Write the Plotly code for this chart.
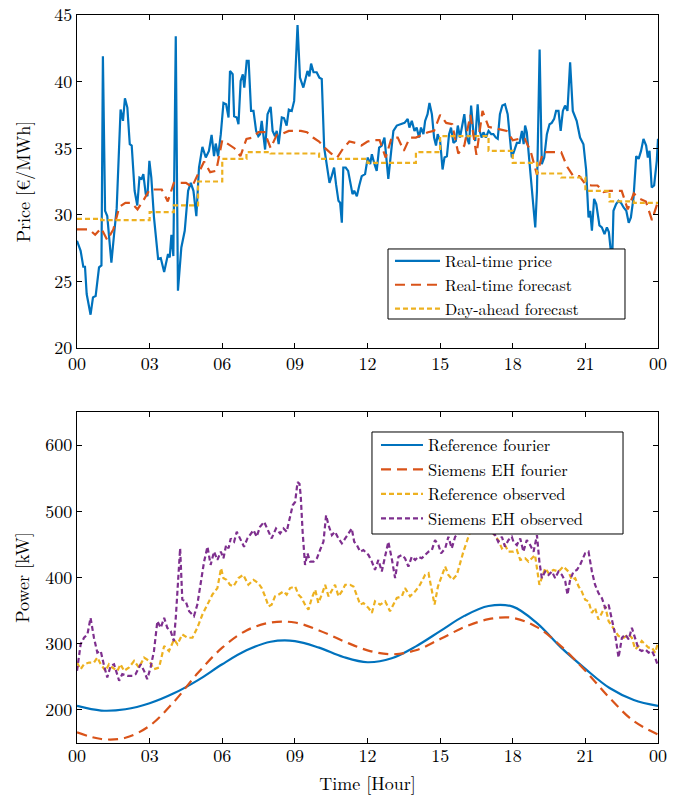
import plotly.graph_objects as go

# ---------------- Top panel data ----------------
rt_hours = [0.0, 0.15, 0.26, 0.33, 0.40, 0.56, 0.66, 0.77, 0.91, 1.01, 1.07, 1.16, 1.25, 1.42, 1.53, 1.64,
            1.80, 1.90, 1.98, 2.08, 2.18, 2.26, 2.38, 2.49, 2.58, 2.67, 2.74, 2.84, 2.91, 2.99, 3.07, 3.18,
            3.35, 3.46, 3.60, 3.76, 3.83, 3.90, 3.98, 4.08, 4.17, 4.31, 4.45, 4.59, 4.70, 4.81, 4.93, 5.04,
            5.18, 5.32, 5.45, 5.56, 5.66, 5.73, 5.83, 5.94,
            6.05, 6.16, 6.26, 6.32, 6.43, 6.49, 6.60, 6.67, 6.76, 6.85, 6.91, 7.01, 7.09, 7.19, 7.29, 7.40,
            7.49, 7.56, 7.63, 7.70, 7.77, 7.87, 8.00, 8.08, 8.18, 8.25, 8.33, 8.46, 8.55, 8.66, 8.75, 8.87,
            8.97, 9.11, 9.21, 9.35, 9.46, 9.52, 9.60, 9.67, 9.77, 9.90, 10.01, 10.11, 10.21, 10.32, 10.43,
            10.52, 10.62, 10.70, 10.80, 10.87, 10.94, 11.00, 11.10, 11.20, 11.30, 11.38, 11.45, 11.56, 11.66,
            11.76, 11.90,
            12.01, 12.11, 12.18, 12.29, 12.38, 12.48, 12.59, 12.70, 12.77, 12.86, 12.98, 13.07, 13.21, 13.35,
            13.53, 13.66, 13.73, 13.83, 13.94, 14.03, 14.13, 14.21, 14.31, 14.38, 14.48, 14.56, 14.66, 14.75,
            14.83, 14.90, 15.00, 15.10, 15.18, 15.28, 15.37, 15.45, 15.55, 15.65, 15.73, 15.82, 15.92, 16.00,
            16.10, 16.20, 16.28, 16.38, 16.45, 16.55, 16.63, 16.72, 16.79, 16.89, 17.00, 17.11, 17.20, 17.30,
            17.38, 17.47, 17.57, 17.68, 17.79, 17.89,
            17.96, 18.06, 18.17, 18.28, 18.38, 18.45, 18.51, 18.58, 18.65, 18.72, 18.83, 18.93, 19.00, 19.11,
            19.20, 19.30, 19.41, 19.52, 19.61, 19.71, 19.79, 19.89, 19.98, 20.07, 20.16, 20.26, 20.37, 20.48,
            20.64, 20.78, 20.92, 21.03, 21.13, 21.20, 21.27, 21.36, 21.45, 21.52, 21.58, 21.68, 21.79, 21.89,
            21.97, 22.05, 22.10, 22.16, 22.27, 22.37, 22.47, 22.58, 22.69, 22.79, 22.88, 22.99, 23.10, 23.20,
            23.30, 23.40, 23.51, 23.58, 23.65, 23.74, 23.84, 23.95, 24.0]
rt_price = [28.05, 27.3, 26.1, 26.1, 24.05, 22.5, 23.8, 23.9, 26.05, 26.2, 41.9, 30.3, 29.9, 26.4, 28.5, 30.5,
            37.9, 37.05, 38.75, 38.05, 35.3, 35.2, 31.8, 30.7, 32.8, 32.7, 33.05, 31.55, 31.4, 34.05, 32.8, 29.8,
            26.7, 26.75, 25.7, 27.05, 26.8, 28.5, 26.9, 43.4, 24.3, 27.55, 28.8, 31.8, 32.4, 31.8, 29.9, 33.55,
            35.1, 34.3, 34.8, 36.0, 34.4, 35.35, 34.4, 36.05,
            38.4, 38.3, 37.3, 40.8, 40.55, 37.4, 37.3, 36.8, 40.05, 40.55, 39.55, 41.55, 41.55, 37.8, 37.8, 36.3,
            35.9, 36.05, 37.05, 35.9, 34.9, 37.55, 38.1, 36.3, 35.9, 36.3, 35.3, 37.3, 37.25, 36.7, 37.9, 37.8,
            38.55, 44.25, 40.3, 39.55, 40.3, 40.8, 40.4, 41.35, 40.7, 40.7, 40.3, 40.2, 35.05, 33.8, 32.4,
            32.9, 33.55, 32.3, 31.05, 30.9, 29.4, 33.55, 33.55, 33.3, 32.3, 31.55, 31.8, 31.4, 32.2,
            32.9, 33.05,
            34.3, 33.8, 34.55, 33.8, 33.3, 35.05, 35.2, 35.8, 34.55, 32.7, 34.8, 36.3, 36.7, 36.8,
            36.9, 37.2, 36.55, 37.05, 36.3, 36.55, 35.8, 36.55, 36.05, 37.05, 37.55, 38.4, 37.55, 35.8,
            35.2, 36.05, 35.55, 33.4, 34.3, 34.4, 36.05, 36.55, 35.4, 35.55, 36.7, 35.8, 36.7, 37.55,
            35.8, 35.3, 38.2, 36.05, 35.55, 38.3, 36.3, 35.8, 36.2, 35.8, 36.3, 36.05, 36.05, 35.8,
            35.7, 37.55, 38.2, 38.3, 37.55, 35.8,
            34.3, 34.8, 35.4, 35.4, 36.3, 35.3, 36.7, 36.2, 34.8, 33.05, 31.3, 29.05, 31.8, 42.4,
            33.8, 34.3, 36.05, 36.8, 36.9, 37.2, 37.8, 37.8, 36.3, 37.8, 38.2, 37.8, 41.45, 37.8,
            37.05, 35.8, 35.3, 33.4, 29.8, 30.3, 28.8, 31.2, 30.8, 29.9, 29.2, 29.05, 28.55, 29.05,
            28.7, 27.3, 26.0, 30.3, 30.8, 31.05, 30.9, 30.55, 30.3, 29.4, 29.8, 31.3, 34.4, 34.2,
            34.8, 35.7, 35.2, 34.3, 34.8, 32.05, 32.2, 34.05, 35.7]

# real-time forecast, quarter-hourly (0, 0.25, ..., 24)
rtf_price = [28.9, 28.9, 28.9, 28.5, 29.0, 28.1, 28.9, 30.6, 30.9, 30.9, 30.4, 31.1,
             31.9, 31.9, 31.9, 31.0, 32.4, 32.4, 32.4, 32.1, 33.0, 34.0, 33.2, 33.3,
             35.6, 35.3, 35.0, 34.4, 35.7, 35.8, 36.2, 36.2, 35.0, 36.0, 36.1, 36.3,
             36.3, 36.3, 36.2, 35.8, 35.5, 35.0, 34.6, 34.3, 35.0, 35.5, 35.4, 35.2,
             35.5, 35.6, 35.6, 34.3, 35.8, 35.8, 34.8, 35.8, 35.8, 36.0, 36.2, 36.3,
             37.5, 36.9, 36.8, 34.6, 35.2, 37.5, 34.5, 37.8, 36.6, 36.5, 36.4, 36.3,
             35.6, 35.7, 35.7, 34.7, 33.0, 34.7, 34.7, 34.7, 34.7, 33.6, 32.9, 32.9,
             32.3, 32.2, 32.2, 31.7, 31.8, 31.8, 31.8, 30.4, 31.6, 31.2, 31.0, 29.6, 31.0]
rtf_hours = [i * 0.25 for i in range(len(rtf_price))]

# day-ahead forecast, hourly blocks
da_hours = list(range(25))
da_price = [29.7, 29.6, 29.6, 30.2, 30.7, 32.5, 34.2, 34.7, 34.6, 34.6, 34.2, 34.2,
            33.9, 33.9, 34.7, 35.9, 35.9, 34.8, 33.9, 33.1, 32.8, 31.8, 31.0, 30.9, 30.9]

# ---------------- Bottom panel data ----------------
fourier_hours = list(range(25))
ref_fourier = [206, 199, 201, 210, 225, 245, 269, 290, 303, 304, 294, 280, 272,
               278, 296, 319, 342, 357, 356, 331, 294, 262, 233, 215, 206]
siem_fourier = [166, 156, 158, 176, 212, 256, 294, 320, 332, 332, 320, 304, 290,
                284, 290, 307, 325, 337, 339, 325, 296, 259, 218, 183, 163]

ref_obs_hours = [0.0, 0.15, 0.29, 0.50, 0.70, 0.84, 0.98, 1.18, 1.32, 1.46, 1.67, 1.80, 1.94, 2.15, 2.36,
                 2.56, 2.77, 2.98, 3.18, 3.39, 3.60, 3.80, 4.01, 4.15, 4.35, 4.56, 4.77, 4.97, 5.18, 5.39,
                 5.59, 5.80, 5.95,
                 6.05, 6.18, 6.32, 6.46, 6.67, 6.87, 7.08, 7.29, 7.49, 7.63, 7.77, 7.91, 8.04, 8.18, 8.32,
                 8.53, 8.66, 8.80, 9.01, 9.15, 9.28, 9.42, 9.56, 9.70, 9.84, 9.97, 10.11, 10.25, 10.39,
                 10.53, 10.66, 10.80, 10.94, 11.08, 11.28, 11.42, 11.56, 11.70, 11.83,
                 12.04, 12.18, 12.31, 12.52, 12.73, 12.93, 13.07, 13.21, 13.42, 13.55, 13.76, 13.97, 14.17,
                 14.38, 14.52, 14.66, 14.77, 14.91, 15.07, 15.21, 15.34, 15.51, 15.69, 15.83, 15.96, 16.10,
                 16.24, 16.40, 16.60, 16.80, 17.00, 17.20, 17.40, 17.55, 17.68, 17.82,
                 18.03, 18.17, 18.31, 18.51, 18.65, 18.79, 18.92, 19.10, 19.20, 19.34, 19.48, 19.68, 19.89,
                 20.09, 20.30, 20.44, 20.58, 20.72, 20.85, 20.99, 21.13, 21.27, 21.40, 21.54, 21.68, 21.82,
                 21.96, 22.09, 22.23, 22.37, 22.58, 22.79, 22.92, 23.06, 23.20, 23.33, 23.47, 23.61, 23.75,
                 23.88, 24.0]
ref_obs = [271.5, 261.5, 269, 271.5, 271.5, 279, 269, 259, 269, 264, 259, 269, 259, 264, 274,
           264, 279, 274, 261.5, 264, 296.5, 289, 306.5, 299, 314, 309, 309, 324, 344, 359,
           374, 384, 414,
           399, 396.5, 389, 386.5, 399, 404, 389, 396.5, 391.5, 384, 371.5, 356.5, 359, 371.5, 374,
           379, 374, 384, 386.5, 374, 369, 359, 351.5, 369, 381.5, 361.5, 374, 389, 371.5,
           381.5, 389, 371.5, 379, 389, 389, 386.5, 374, 359, 361.5,
           354, 346.5, 364, 359, 364, 349, 359, 369, 371.5, 384, 371.5, 379, 389,
           404, 406.5, 379, 359, 386.5, 404, 416.5, 404, 396.5, 404, 424, 439, 454,
           469, 490, 505, 500, 485, 466.5, 456.5, 444, 449, 439,
           439, 441.5, 426.5, 429, 424, 429, 434, 389, 399, 414, 406.5, 411.5, 409,
           416.5, 409, 396.5, 399, 386.5, 379, 366.5, 364, 346.5, 354, 336.5, 346.5, 356.5,
           334, 326.5, 319, 311.5, 309, 314, 309, 291.5, 296.5, 304, 299, 294, 294,
           286.5, 301.5]

siem_obs_hours = [0.0, 0.15, 0.29, 0.43, 0.56, 0.70, 0.84, 0.98, 1.12, 1.25, 1.39, 1.53, 1.74, 1.87, 2.08,
                  2.29, 2.42, 2.63, 2.77, 2.90, 3.04, 3.18, 3.32, 3.46, 3.60, 3.73, 3.87, 4.00, 4.08, 4.17,
                  4.26, 4.35, 4.49, 4.63, 4.83, 4.97, 5.11, 5.25, 5.39, 5.52, 5.66, 5.80, 5.94,
                  6.05, 6.16, 6.26, 6.35, 6.49, 6.60, 6.74, 6.90, 7.04, 7.18, 7.29, 7.42, 7.56, 7.73, 7.91,
                  8.04, 8.22, 8.39, 8.53, 8.66, 8.80, 8.91, 9.01, 9.11, 9.19, 9.24, 9.32, 9.42, 9.52, 9.63,
                  9.77, 9.91, 10.04, 10.18, 10.29, 10.39, 10.53, 10.66, 10.80, 10.94, 11.08, 11.22, 11.35,
                  11.45, 11.56, 11.70, 11.83,
                  12.04, 12.18, 12.31, 12.45, 12.59, 12.73, 12.86, 13.00, 13.14, 13.28, 13.42, 13.55, 13.69,
                  13.83, 13.97, 14.10, 14.24, 14.38, 14.52, 14.66, 14.79, 14.93, 15.04, 15.21, 15.34, 15.48,
                  15.62, 15.76, 15.95, 16.15, 16.35, 16.55, 16.75, 16.95, 17.10, 17.27, 17.40, 17.55, 17.68,
                  17.82, 17.96,
                  18.03, 18.17, 18.31, 18.44, 18.58, 18.72, 18.86, 19.00, 19.10, 19.20, 19.34, 19.48, 19.62,
                  19.75, 19.89, 20.03, 20.17, 20.26, 20.37, 20.51, 20.65, 20.78, 20.89, 20.99, 21.13, 21.27,
                  21.40, 21.54, 21.68, 21.82, 21.96, 22.09, 22.23, 22.37, 22.51, 22.65, 22.79, 22.92, 23.06,
                  23.20, 23.33, 23.47, 23.61, 23.75, 23.88, 24.0]
siem_obs = [259, 299, 309, 314, 339, 309, 286.5, 289, 266.5, 249, 266.5, 269, 244, 254, 251.5,
            251.5, 254, 269, 259, 246.5, 264, 289, 334, 324, 339, 324, 319, 304, 339, 394,
            444, 366.5, 364, 349, 341.5, 359, 394, 424, 446.5, 419, 439, 426.5, 439,
            429, 449, 444, 459, 454, 469, 459, 446.5, 459, 466.5, 471.5, 461.5, 476.5, 484, 469,
            459, 474, 466.5, 474, 469, 491.5, 509, 514, 544, 541.5, 524, 469, 419, 436.5, 424,
            424, 429, 441.5, 454, 494, 479, 464, 469, 459, 451.5, 459, 466.5, 474,
            454, 449, 439, 441.5,
            434, 424, 411.5, 426.5, 409, 431.5, 454, 429, 399, 431.5, 434, 429, 416.5,
            431.5, 426.5, 431.5, 429, 434, 439, 441.5, 456.5, 449, 436.5, 444, 461.5, 444,
            461.5, 466.5, 475, 482, 478, 488, 480, 472, 470, 464, 454, 461.5, 446.5,
            456.5, 461.5,
            454, 449, 459, 439, 456.5, 449, 439, 464, 424, 399, 409, 404, 409,
            399, 409, 404, 394, 374, 396.5, 409, 411.5, 419, 429, 436.5, 439, 409,
            389, 376.5, 369, 354, 359, 339, 314, 279, 309, 314, 306.5, 324, 309,
            291.5, 289, 291.5, 286.5, 289, 279, 266.5]

tick_hours = [0, 3, 6, 9, 12, 15, 18, 21, 24]
tick_labels = ["00", "03", "06", "09", "12", "15", "18", "21", "00"]

BLUE = "#0072BD"
ORANGE = "#D95319"
YELLOW = "#EDB120"
PURPLE = "#7E2F8E"
FONT = "Latin Modern Roman"
FS = 18

fig = go.Figure()
fig.add_trace(go.Scatter(x=rt_hours, y=rt_price, mode="lines", name="Real-time price",
                         line=dict(color=BLUE, width=2.2), xaxis="x", yaxis="y", legend="legend"))
fig.add_trace(go.Scatter(x=rtf_hours, y=rtf_price, mode="lines", name="Real-time forecast",
                         line=dict(color=ORANGE, width=2.2, dash="10px,6px"), xaxis="x", yaxis="y", legend="legend"))
fig.add_trace(go.Scatter(x=da_hours, y=da_price, mode="lines", name="Day-ahead forecast",
                         line=dict(color=YELLOW, width=2.2, dash="5px,3px", shape="hv"), xaxis="x", yaxis="y", legend="legend"))

fig.add_trace(go.Scatter(x=fourier_hours, y=ref_fourier, mode="lines", name="Reference fourier",
                         line=dict(color=BLUE, width=2.2, shape="spline", smoothing=1.0), xaxis="x2", yaxis="y2", legend="legend2"))
fig.add_trace(go.Scatter(x=fourier_hours, y=siem_fourier, mode="lines", name="Siemens EH fourier",
                         line=dict(color=ORANGE, width=2.2, dash="10px,6px", shape="spline", smoothing=1.0),
                         xaxis="x2", yaxis="y2", legend="legend2"))
fig.add_trace(go.Scatter(x=ref_obs_hours, y=ref_obs, mode="lines", name="Reference observed",
                         line=dict(color=YELLOW, width=2.2, dash="5px,3px"), xaxis="x2", yaxis="y2", legend="legend2"))
fig.add_trace(go.Scatter(x=siem_obs_hours, y=siem_obs, mode="lines", name="Siemens EH observed",
                         line=dict(color=PURPLE, width=2.2, dash="5px,3px"), xaxis="x2", yaxis="y2", legend="legend2"))

axis_common = dict(showline=True, linecolor="black", linewidth=1.2, mirror="ticks", ticks="inside",
                   ticklen=5, tickwidth=1, tickcolor="black", showgrid=False, zeroline=False,
                   automargin=False, tickfont=dict(family=FONT, size=FS, color="black"))

# legend frames (white boxes with black outline, drawn above the traces, under the legend text)
legend_frames = [
    dict(type="rect", xref="paper", yref="paper", x0=0.5353, x1=0.9432, y0=0.5824, y1=0.6786,
         fillcolor="white", line=dict(color="black", width=1), layer="above"),
    dict(type="rect", xref="paper", yref="paper", x0=0.5077, x1=0.9398, y0=0.2871, y1=0.4272,
         fillcolor="white", line=dict(color="black", width=1), layer="above"),
]

fig.update_layout(
    width=678, height=795,
    margin=dict(l=77, r=20, t=15, b=52),
    paper_bgcolor="white", plot_bgcolor="white",
    font=dict(family=FONT, size=FS, color="black"),
    showlegend=True,
    shapes=legend_frames,
    xaxis=dict(domain=[0, 1], range=[0, 24], anchor="y", tickvals=tick_hours, ticktext=tick_labels,
               ticklabelstandoff=-1, **axis_common),
    yaxis=dict(domain=[0.5426, 1], range=[20, 45], anchor="x", tickvals=[20, 25, 30, 35, 40, 45],
               title=dict(text="Price [€/MWh]", font=dict(family=FONT, size=FS), standoff=18), **axis_common),
    xaxis2=dict(domain=[0, 1], range=[0, 24], anchor="y2", tickvals=tick_hours, ticktext=tick_labels,
                ticklabelstandoff=-4,
                title=dict(text="Time [Hour]", font=dict(family=FONT, size=FS), standoff=11), **axis_common),
    yaxis2=dict(domain=[0, 0.4547], range=[150, 650], anchor="x2", tickvals=[200, 300, 400, 500, 600],
                title=dict(text="Power [kW]", font=dict(family=FONT, size=FS), standoff=10), **axis_common),
    legend=dict(x=0.5387, y=0.6854, xanchor="left", yanchor="top", bgcolor="rgba(0,0,0,0)",
                borderwidth=0, font=dict(family=FONT, size=16), tracegroupgap=0, itemwidth=45),
    legend2=dict(x=0.5146, y=0.4330, xanchor="left", yanchor="top", bgcolor="rgba(0,0,0,0)",
                 borderwidth=0, font=dict(family=FONT, size=16.5), tracegroupgap=0, itemwidth=42),
)

fig.write_html("out.html")
